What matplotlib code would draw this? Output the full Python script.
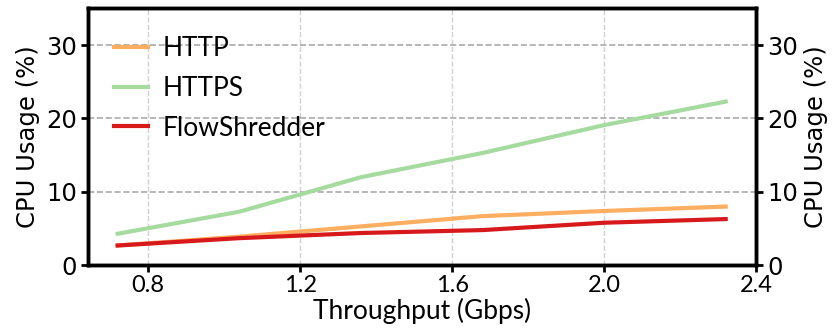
import matplotlib
matplotlib.use("Agg")
from matplotlib import pyplot as plt

# data
throughput = [0.72, 1.04, 1.36, 1.68, 2.00, 2.32]
http = [2.7, 3.9, 5.3, 6.7, 7.4, 8.0]
https = [4.3, 7.3, 12.0, 15.3, 19.1, 22.3]
flowshredder = [2.7, 3.7, 4.4, 4.8, 5.8, 6.3]

xticks = [0.8, 1.2, 1.6, 2.0, 2.4]
yticks = [0, 10, 20, 30]

gill = ['Lato', 'DejaVu Sans']

fig = plt.figure(figsize=(8.32, 3.35), dpi=100)
ax = fig.add_axes([0.1058, 0.208, 0.803, 0.767])

ax.plot(throughput, http, color='#fdae61', lw=3, label='HTTP')
ax.plot(throughput, https, color='#a6dba0', lw=3, label='HTTPS')
ax.plot(throughput, flowshredder, color='#d7191c', lw=3, label='FlowShredder')

ax.set_xlim(0.642, 2.4)
ax.set_ylim(0, 35)
ax.set_xticks(xticks)
ax.set_xticklabels(['%.1f' % t for t in xticks], family=gill, fontsize=17)
ax.set_yticks(yticks)
ax.tick_params(axis='y', labelsize=17.5, width=2, length=5, pad=3)
ax.tick_params(axis='x', width=2, length=5, pad=2)
ax.set_xlabel('Throughput (Gbps)', family=gill, fontsize=19, labelpad=1)
ax.set_ylabel('CPU Usage (%)', fontsize=17.5, labelpad=4)

ax.yaxis.grid(True, ls='--', color='#aaaaaa', lw=1.2)
ax.xaxis.grid(True, ls='--', color='#d0d0d0', lw=1.0)
ax.set_axisbelow(True)

for s in ax.spines.values():
    s.set_linewidth(2.5)

ax2 = ax.twinx()
ax2.set_ylim(0, 35)
ax2.set_yticks(yticks)
ax2.tick_params(axis='y', labelsize=17.5, width=2, length=5, pad=3)
ax2.set_ylabel('CPU Usage (%)', fontsize=17.5, labelpad=4)
for s in ax2.spines.values():
    s.set_linewidth(2.5)

ax.legend(loc='upper left', frameon=False, prop={'family': gill, 'size': 19},
          handlelength=1.3, handletextpad=0.55, labelspacing=0.56,
          bbox_to_anchor=(0.003, 0.985))

fig.savefig('out.png', dpi=100)
